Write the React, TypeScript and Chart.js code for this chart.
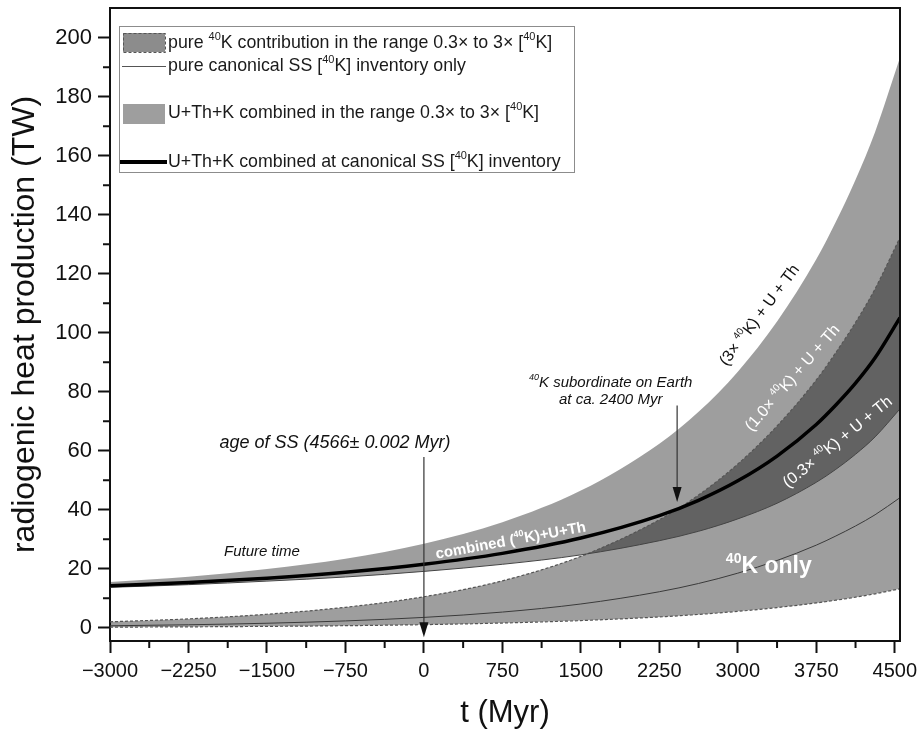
import React, { useEffect, useRef } from 'react';
import { Chart, registerables } from 'chart.js';

Chart.register(...registerables);

const FONT = "'Liberation Sans', Arial, Helvetica, sans-serif";

// time (Myr)
const times = [-3000, -2250, -1500, -750, 0, 750, 1500, 2250, 2625, 3000, 3375, 3750, 3937, 4125, 4312, 4550];
// pure 40K, canonical SS inventory (TW)
const kCanon = [0.66, 1.0, 1.52, 2.31, 3.5, 5.31, 8.05, 12.2, 15.0, 18.5, 22.8, 28.0, 31.1, 34.5, 38.3, 44.1];
// pure 40K at 0.3x and 3x
const kLow = [0.2, 0.3, 0.46, 0.69, 1.05, 1.59, 2.42, 3.66, 4.5, 5.55, 6.84, 8.4, 9.33, 10.35, 11.5, 13.2];
const kHigh = [2.0, 3.0, 4.56, 6.93, 10.5, 15.9, 24.2, 36.6, 45.0, 55.5, 68.4, 84.0, 93.3, 103.5, 114.9, 132.3];
// U+Th+K combined at 0.3x, 1.0x, 3x 40K
const combLow = [13.7, 14.6, 15.8, 17.2, 19.1, 21.5, 24.7, 29.5, 32.7, 36.9, 42.2, 49.3, 53.7, 58.8, 64.7, 74.2];
const combMid = [14.2, 15.3, 16.8, 18.8, 21.5, 25.2, 30.4, 38.0, 43.2, 49.8, 58.2, 68.9, 75.5, 82.9, 91.5, 105.1];
const combHigh = [15.5, 17.3, 19.9, 23.4, 28.5, 35.8, 46.5, 62.4, 73.2, 86.8, 103.8, 124.9, 137.6, 151.9, 168.1, 193.3];

const xTickValues = [-3000, -2250, -1500, -750, 0, 750, 1500, 2250, 3000, 3750, 4500];
const yTickValues = [0, 20, 40, 60, 80, 100, 120, 140, 160, 180, 200];

const legendLabels = [
  'pure {40}K contribution in the range 0.3× to 3× [{40}K]',
  'pure canonical SS [{40}K] inventory only',
  'U+Th+K combined in the range 0.3× to 3× [{40}K]',
  'U+Th+K combined at canonical SS [{40}K] inventory',
];

const xTitle = 't (Myr)';
const yTitle = 'radiogenic heat production (TW)';

const BAND = 'rgba(0,0,0,0.38)';

function pts(arr: number[]) {
  return times.map((t, i) => ({ x: t, y: arr[i] }));
}

function drawRich(
  ctx: CanvasRenderingContext2D,
  text: string,
  x: number,
  y: number,
  size: number,
  style: string,
  align: 'left' | 'center' | 'right',
  color: string
) {
  const parts: { t: string; sup: boolean; w: number }[] = [];
  const re = /\{([^}]*)\}/g;
  let last = 0;
  let m: RegExpExecArray | null;
  while ((m = re.exec(text))) {
    if (m.index > last) parts.push({ t: text.slice(last, m.index), sup: false, w: 0 });
    parts.push({ t: m[1], sup: true, w: 0 });
    last = re.lastIndex;
  }
  if (last < text.length) parts.push({ t: text.slice(last), sup: false, w: 0 });
  const base = `${style} ${size}px ${FONT}`;
  const sup = `${style} ${Math.round(size * 0.62)}px ${FONT}`;
  let total = 0;
  for (const p of parts) {
    ctx.font = p.sup ? sup : base;
    p.w = ctx.measureText(p.t).width;
    total += p.w;
  }
  let cx = align === 'center' ? x - total / 2 : align === 'right' ? x - total : x;
  ctx.fillStyle = color;
  ctx.textBaseline = 'middle';
  ctx.textAlign = 'left';
  for (const p of parts) {
    ctx.font = p.sup ? sup : base;
    ctx.fillText(p.t, cx, p.sup ? y - size * 0.36 : y);
    cx += p.w;
  }
}

function drawArrow(ctx: CanvasRenderingContext2D, x: number, y1: number, y2: number) {
  const head = 15;
  ctx.strokeStyle = '#333';
  ctx.lineWidth = 1.2;
  ctx.beginPath();
  ctx.moveTo(x, y1);
  ctx.lineTo(x, y2 - head + 2);
  ctx.stroke();
  ctx.fillStyle = '#111';
  ctx.beginPath();
  ctx.moveTo(x - 4.5, y2 - head);
  ctx.lineTo(x + 4.5, y2 - head);
  ctx.lineTo(x, y2);
  ctx.closePath();
  ctx.fill();
}

const overlay = {
  id: 'overlay',
  afterDraw(chart: any) {
    const { ctx, chartArea } = chart;
    const xs = chart.scales.x;
    const ys = chart.scales.y;
    const px = (v: number) => xs.getPixelForValue(v);
    const py = (v: number) => ys.getPixelForValue(v);
    ctx.save();

    // frame top & right
    ctx.strokeStyle = '#111';
    ctx.lineWidth = 2;
    ctx.beginPath();
    ctx.moveTo(chartArea.left, chartArea.top);
    ctx.lineTo(chartArea.right, chartArea.top);
    ctx.lineTo(chartArea.right, chartArea.bottom);
    ctx.stroke();

    // minor ticks
    ctx.lineWidth = 2;
    ctx.beginPath();
    const xt = xs.ticks.map((t: any) => t.value);
    for (let i = 0; i < xt.length - 1; i++) {
      const xx = px((xt[i] + xt[i + 1]) / 2);
      ctx.moveTo(xx, chartArea.bottom);
      ctx.lineTo(xx, chartArea.bottom + 7);
    }
    const yt = ys.ticks.map((t: any) => t.value);
    for (let i = 0; i < yt.length - 1; i++) {
      const yy = py((yt[i] + yt[i + 1]) / 2);
      ctx.moveTo(chartArea.left, yy);
      ctx.lineTo(chartArea.left - 7, yy);
    }
    ctx.stroke();

    // annotations inside plot
    ctx.save();
    ctx.beginPath();
    ctx.rect(chartArea.left, chartArea.top, chartArea.right - chartArea.left, chartArea.bottom - chartArea.top);
    ctx.clip();

    drawRich(ctx, 'age of SS (4566± 0.002 Myr)', px(-850), py(62.6), 18, 'italic', 'center', '#111');
    drawArrow(ctx, px(0), py(57.9), py(-3.2));
    drawRich(ctx, 'Future time', px(-1548), py(25.7), 15, 'italic', 'center', '#111');
    drawRich(ctx, '{40}K subordinate on Earth', px(1785), py(82.9), 15, 'italic', 'center', '#111');
    drawRich(ctx, 'at ca. 2400 Myr', px(1785), py(77.3), 15, 'italic', 'center', '#111');
    drawArrow(ctx, px(2420), py(75.3), py(42.6));

    const rot = (text: string, t: number, v: number, deg: number, size: number, color: string, style: string) => {
      ctx.save();
      ctx.translate(px(t), py(v));
      ctx.rotate((-deg * Math.PI) / 180);
      drawRich(ctx, text, 0, 0, size, style, 'center', color);
      ctx.restore();
    };
    rot('combined ({40}K)+U+Th', 831, 29.4, 10.4, 15, '#fff', 'bold');
    rot('(3× {40}K) + U + Th', 3210, 105.9, 53, 16, '#111', 'normal');
    rot('(1.0× {40}K) + U + Th', 3525, 84.6, 49, 16, '#fff', 'normal');
    rot('(0.3× {40}K) + U + Th', 3955, 62.9, 39, 16, '#fff', 'normal');
    drawRich(ctx, '{40}K only', px(3296), py(20.6), 23, 'bold', 'center', '#fff');
    ctx.restore();

    // legend
    const lx = 119, ly = 26, lw = 455, lh = 146;
    ctx.fillStyle = '#fff';
    ctx.fillRect(lx, ly, lw, lh);
    ctx.strokeStyle = '#8c8c8c';
    ctx.lineWidth = 1;
    ctx.setLineDash([]);
    ctx.strokeRect(lx + 0.5, ly + 0.5, lw, lh);
    // row 1: dashed band swatch
    ctx.fillStyle = 'rgba(0,0,0,0.45)';
    ctx.fillRect(123, 33, 42, 19);
    ctx.strokeStyle = '#555';
    ctx.setLineDash([3, 2]);
    ctx.strokeRect(123.5, 33.5, 42, 19);
    ctx.setLineDash([]);
    // row 2: thin line
    ctx.strokeStyle = '#555';
    ctx.lineWidth = 1;
    ctx.beginPath();
    ctx.moveTo(122, 66.5);
    ctx.lineTo(166, 66.5);
    ctx.stroke();
    // row 3: band swatch
    ctx.fillStyle = 'rgba(0,0,0,0.38)';
    ctx.fillRect(123, 104, 42, 20);
    // row 4: thick line
    ctx.strokeStyle = '#000';
    ctx.lineWidth = 4;
    ctx.beginPath();
    ctx.moveTo(120, 162);
    ctx.lineTo(167, 162);
    ctx.stroke();
    const rowsY = [43, 66, 113, 162];
    legendLabels.forEach((l, i) => drawRich(ctx, l, 168, rowsY[i], 17.8, 'normal', 'left', '#1a1a1a'));

    ctx.restore();
  },
};

export default function App() {
  const ref = useRef<HTMLCanvasElement | null>(null);
  useEffect(() => {
    if (!ref.current) return;
    const common = { pointRadius: 0, pointHoverRadius: 0, cubicInterpolationMode: 'monotone' as const };
    const chart = new Chart(ref.current, {
      type: 'line',
      data: {
        datasets: [
          { ...common, label: 'K 0.3x', data: pts(kLow), borderColor: '#555', borderWidth: 1.2, borderDash: [3, 2], fill: false, order: 3 },
          { ...common, label: 'K 3x', data: pts(kHigh), borderColor: '#555', borderWidth: 1.2, borderDash: [3, 2], fill: { target: 0 }, backgroundColor: BAND, order: 3 },
          { ...common, label: 'K canonical', data: pts(kCanon), borderColor: '#3a3a3a', borderWidth: 1, fill: false, order: 2 },
          { ...common, label: 'comb 0.3x', data: pts(combLow), borderColor: '#444', borderWidth: 1, fill: false, order: 2 },
          { ...common, label: 'comb 3x', data: pts(combHigh), borderColor: 'rgba(0,0,0,0)', borderWidth: 0, fill: { target: 3 }, backgroundColor: BAND, order: 4 },
          { ...common, label: 'comb 1x', data: pts(combMid), borderColor: '#000', borderWidth: 3.5, fill: false, order: 0 },
        ],
      },
      options: {
        responsive: false,
        animation: false,
        events: [],
        layout: { padding: { left: 0, top: 8, right: 19, bottom: 0 } },
        plugins: {
          legend: { display: false },
          tooltip: { enabled: false },
          filler: { drawTime: 'beforeDatasetsDraw' },
        },
        scales: {
          x: {
            type: 'linear',
            min: -3000,
            max: 4550,
            border: { display: true, color: '#111', width: 2 },
            grid: { display: true, drawOnChartArea: false, drawTicks: true, tickLength: 12, tickWidth: 2, tickColor: '#111' },
            ticks: {
              autoSkip: false,
              maxRotation: 0,
              padding: 6,
              color: '#111',
              font: { family: FONT, size: 20 },
              callback: (v: any) => (v < 0 ? '\u2212' + Math.abs(v) : String(v)),
            },
            title: { display: true, text: xTitle, color: '#111', font: { family: FONT, size: 31, lineHeight: 1.2 }, padding: { top: 0, bottom: 3 } },
            afterBuildTicks: (s: any) => { s.ticks = xTickValues.map((v) => ({ value: v })); },
            afterFit: (s: any) => { s.height = 94; s.paddingLeft = 0; s.paddingRight = 0; },
          },
          y: {
            type: 'linear',
            min: -4.5,
            max: 210.1,
            border: { display: true, color: '#111', width: 2 },
            grid: { display: true, drawOnChartArea: false, drawTicks: true, tickLength: 12, tickWidth: 2, tickColor: '#111' },
            ticks: {
              autoSkip: false,
              padding: 6,
              color: '#111',
              font: { family: FONT, size: 22 },
            },
            title: { display: true, text: yTitle, color: '#111', font: { family: FONT, size: 32, lineHeight: 1.2 }, padding: { top: 6, bottom: 0 } },
            afterBuildTicks: (s: any) => { s.ticks = yTickValues.map((v) => ({ value: v })); },
            afterFit: (s: any) => { s.width = 110; s.paddingTop = 0; s.paddingBottom = 0; },
          },
        },
      },
      plugins: [overlay],
    });
    return () => chart.destroy();
  }, []);
  return (
    <div style={{ position: 'absolute', left: 0, top: 0, width: 919, height: 735, background: '#fff' }}>
      <canvas ref={ref} width={919} height={735} />
    </div>
  );
}
